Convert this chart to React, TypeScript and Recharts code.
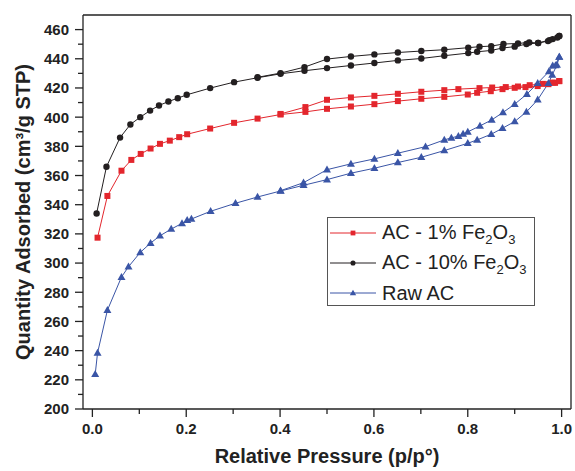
import React from "react";
import { LineChart, Line, XAxis, YAxis, ReferenceLine, Legend } from "recharts";

// relative pressure / quantity adsorbed
const ads1 = [
  [0.011, 317.4], [0.032, 346], [0.062, 363.3], [0.083, 370.7], [0.103, 374.8],
  [0.124, 378.5], [0.144, 381.7], [0.165, 383.9], [0.185, 386.3], [0.202, 388.3],
  [0.251, 392.2], [0.302, 396.1], [0.352, 399], [0.401, 401.8], [0.454, 403.6],
  [0.5, 405.7], [0.551, 407.3], [0.601, 408.9], [0.651, 411], [0.701, 412.6],
  [0.75, 413.9], [0.8, 415.5], [0.82, 416.7], [0.849, 417.8], [0.874, 419.2],
  [0.9, 420.1], [0.923, 420.6], [0.949, 421.3], [0.972, 422.6], [0.986, 423.5],
  [0.995, 424.7],
];
const des1 = [
  [0.995, 424.7], [0.981, 423.7], [0.96, 422.8], [0.932, 421.9], [0.907, 421],
  [0.881, 420.6], [0.852, 420.3], [0.825, 419.9], [0.78, 419.2], [0.75, 418.5],
  [0.701, 417.4], [0.651, 416], [0.601, 414.6], [0.551, 413.5], [0.5, 411.9],
  [0.454, 406.9], [0.401, 402.2],
];
const ads10 = [
  [0.009, 334], [0.03, 366], [0.059, 386], [0.081, 395], [0.102, 400],
  [0.123, 404.5], [0.142, 408], [0.162, 410.7], [0.182, 413], [0.201, 415.3],
  [0.251, 419.9], [0.302, 424], [0.352, 427], [0.401, 429.7], [0.452, 431.8],
  [0.5, 433.6], [0.551, 435.4], [0.601, 437.1], [0.651, 438.9], [0.701, 440.2],
  [0.75, 442.1], [0.801, 443.9], [0.82, 444.8], [0.85, 445.7], [0.874, 447.4],
  [0.9, 448.3], [0.925, 450.1], [0.95, 450.8], [0.971, 452.1], [0.995, 455.6],
];
const des10 = [
  [0.995, 455.6], [0.991, 454.6], [0.981, 453.5], [0.974, 452.8], [0.95, 450.8],
  [0.931, 451.2], [0.907, 450.5], [0.876, 450.1], [0.85, 448.7], [0.825, 448.3],
  [0.801, 447.6], [0.75, 446.2], [0.701, 445.3], [0.651, 444.3], [0.601, 443],
  [0.551, 441.6], [0.5, 439.8], [0.452, 434.3], [0.401, 430.2], [0.352, 427.3],
];
const adsRaw = [
  [0.006, 223.8], [0.011, 238.4], [0.032, 267.7], [0.062, 290.4], [0.077, 297.5],
  [0.102, 307.3], [0.124, 313.7], [0.144, 318.7], [0.168, 323.3], [0.191, 327.2],
  [0.202, 329.3], [0.211, 330.2], [0.252, 335.5], [0.305, 341], [0.352, 345.3],
  [0.401, 349.4], [0.45, 353.3], [0.5, 357.2], [0.551, 361.6], [0.601, 365],
  [0.651, 368.9], [0.701, 372.5], [0.75, 377.1], [0.8, 382.1], [0.82, 384.4],
  [0.85, 388.3], [0.874, 392.4], [0.9, 397], [0.925, 403.6], [0.949, 411.9],
  [0.972, 423.3], [0.98, 429], [0.99, 435.7], [0.995, 441.2],
];
const desRaw = [
  [0.995, 441.2], [0.987, 435.5], [0.981, 435.2], [0.973, 431.3], [0.949, 423.3],
  [0.926, 415.8], [0.9, 408.9], [0.875, 403.2], [0.851, 398.1], [0.826, 394],
  [0.8, 389.9], [0.79, 388.5], [0.78, 387], [0.765, 385.8], [0.75, 384.4],
  [0.71, 379.8], [0.651, 375.3], [0.601, 371.4], [0.551, 368], [0.5, 364],
  [0.45, 355.1], [0.401, 349.6],
];

const xTicks = [0, 0.1, 0.2, 0.3, 0.4, 0.5, 0.6, 0.7, 0.8, 0.9, 1.0];
const yTicks = [200, 210, 220, 230, 240, 250, 260, 270, 280, 290, 300, 310, 320, 330,
  340, 350, 360, 370, 380, 390, 400, 410, 420, 430, 440, 450, 460];

const RED = "#e3262d";
const BLACK = "#231f20";
const BLUE = "#3a55a6";
const AXIS = "#222";
const FONT = "'Liberation Sans', Arial, sans-serif";

const toRows = (pts: number[][]) => pts.map(([p, v]) => ({ p, v }));

const series = [
  { key: "ads1", data: toRows(ads1), color: RED, shape: "square" },
  { key: "des1", data: toRows(des1), color: RED, shape: "square" },
  { key: "ads10", data: toRows(ads10), color: BLACK, shape: "circle" },
  { key: "des10", data: toRows(des10), color: BLACK, shape: "circle" },
  { key: "adsRaw", data: toRows(adsRaw), color: BLUE, shape: "triangle" },
  { key: "desRaw", data: toRows(desRaw), color: BLUE, shape: "triangle" },
];

const legendItems = [
  { name: "AC - 1% Fe", sub: true, color: RED, shape: "square" },
  { name: "AC - 10% Fe", sub: true, color: BLACK, shape: "circle" },
  { name: "Raw AC", sub: false, color: BLUE, shape: "triangle" },
];

function Marker({ cx, cy, color, shape, s = 1 }: any) {
  if (cx == null || cy == null) return null;
  if (shape === "square")
    return <rect x={cx - 3 * s} y={cy - 3 * s} width={6 * s} height={6 * s} fill={color} />;
  if (shape === "circle") return <circle cx={cx} cy={cy} r={3.2 * s} fill={color} />;
  const h = 7 * s;
  return (
    <polygon
      points={`${cx},${cy - h * 0.6} ${cx - 4 * s},${cy + h * 0.4} ${cx + 4 * s},${cy + h * 0.4}`}
      fill={color}
    />
  );
}

const TICK_SIZE = 8;
const TICK_MARGIN = 6;

function YTick(props: any) {
  const { x, y, payload } = props;
  const axisX = x + TICK_SIZE + TICK_MARGIN;
  const major = payload.value % 20 === 0;
  return (
    <g>
      <line x1={axisX - (major ? 8 : 5)} x2={axisX} y1={y} y2={y} stroke={AXIS} strokeWidth={1.3} />
      {major && (
        <text x={x} y={y} dy="0.36em" textAnchor="end" fontSize={15} fontWeight="bold" fill="#222" fontFamily={FONT}>
          {payload.value}
        </text>
      )}
    </g>
  );
}

function XTick(props: any) {
  const { x, y, payload } = props;
  const axisY = y - TICK_SIZE - TICK_MARGIN;
  const major = Math.round(payload.value * 10) % 2 === 0;
  return (
    <g>
      <line x1={x} x2={x} y1={axisY} y2={axisY + (major ? 8 : 5)} stroke={AXIS} strokeWidth={1.3} />
      {major && (
        <text x={x} y={y} dy="0.72em" textAnchor="middle" fontSize={15} fontWeight="bold" fill="#222" fontFamily={FONT}>
          {payload.value.toFixed(1)}
        </text>
      )}
    </g>
  );
}

function YTitle({ viewBox }: any) {
  const cx = viewBox.x + 23;
  const cy = viewBox.y + viewBox.height / 2;
  return (
    <text x={cx} y={cy} transform={`rotate(-90 ${cx} ${cy})`} textAnchor="middle" dominantBaseline="central"
      fontSize={20} fontWeight="bold" fill="#222" fontFamily={FONT}>
      Quantity Adsorbed (cm³/g STP)
    </text>
  );
}

function XTitle({ viewBox }: any) {
  return (
    <text x={viewBox.x + viewBox.width / 2} y={viewBox.y + 47} textAnchor="middle" dominantBaseline="central"
      fontSize={20} fontWeight="bold" fill="#222" fontFamily={FONT}>
      Relative Pressure (p/p°)
    </text>
  );
}

function LegendBox() {
  return (
    <div style={{ border: "1px solid #555", background: "#fff", width: 208, height: 89, boxSizing: "border-box", fontFamily: FONT }}>
      {legendItems.map((it) => (
        <div key={it.name} style={{ display: "flex", alignItems: "center", height: 30 }}>
          <svg width={52} height={14} style={{ flex: "none" }}>
            <line x1={2} x2={48} y1={7} y2={7} stroke={it.color} strokeWidth={1} />
            <Marker cx={25} cy={7} color={it.color} shape={it.shape} s={0.8} />
          </svg>
          <span style={{ fontSize: 20, color: "#222", lineHeight: "20px", marginLeft: 2, whiteSpace: "nowrap" }}>
            {it.name}
            {it.sub && (
              <>
                <span style={{ fontSize: 13, position: "relative", top: 5 }}>2</span>O
                <span style={{ fontSize: 13, position: "relative", top: 5 }}>3</span>
              </>
            )}
          </span>
        </div>
      ))}
    </div>
  );
}

export default function App() {
  return (
    <div style={{ position: "absolute", left: 0, top: 0, background: "#fff" }}>
      <LineChart width={575} height={471} margin={{ top: 15, right: 4, left: 0, bottom: 0 }}>
        <XAxis
          type="number"
          dataKey="p"
          domain={[-0.02, 1.02]}
          allowDataOverflow
          ticks={xTicks}
          interval={0}
          height={62}
          tickSize={TICK_SIZE}
          tickMargin={TICK_MARGIN}
          tickLine={false}
          tick={<XTick />}
          stroke={AXIS}
          strokeWidth={1.3}
          label={<XTitle />}
        />
        <YAxis
          type="number"
          domain={[200, 470]}
          allowDataOverflow
          ticks={yTicks}
          interval={0}
          width={83}
          tickSize={TICK_SIZE}
          tickMargin={TICK_MARGIN}
          tickLine={false}
          tick={<YTick />}
          stroke={AXIS}
          strokeWidth={1.3}
          label={<YTitle />}
        />
        <ReferenceLine y={470} stroke={AXIS} strokeWidth={1.3} />
        <ReferenceLine x={1.02} stroke={AXIS} strokeWidth={1.3} />
        {series.map((s) => (
          <Line
            key={s.key}
            data={s.data}
            dataKey="v"
            type="linear"
            stroke={s.color}
            strokeWidth={1}
            isAnimationActive={false}
            legendType="none"
            dot={(props: any) => (
              <Marker key={`${s.key}-${props.index}`} cx={props.cx} cy={props.cy} color={s.color} shape={s.shape} />
            )}
            activeDot={false}
          />
        ))}
        <Legend
          layout="vertical"
          align="center"
          verticalAlign="middle"
          wrapperStyle={{ left: 327, top: 217, width: "auto", height: "auto" }}
          content={() => <LegendBox />}
        />
      </LineChart>
    </div>
  );
}
